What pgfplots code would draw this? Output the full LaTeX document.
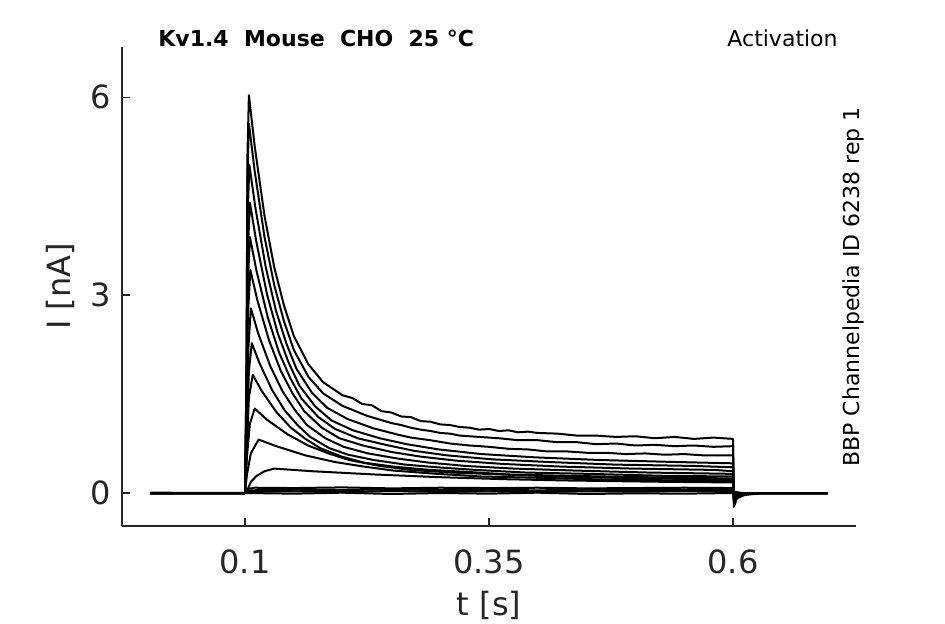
\documentclass[border=0pt]{standalone}
\usepackage{fontspec}
\setmainfont{DejaVu Sans}
\usepackage{pgfplots}
\pgfplotsset{compat=1.18}
\definecolor{axgray}{HTML}{262626}
\begin{document}
\begin{tikzpicture}
\useasboundingbox (0,0) rectangle (472.5pt,312pt);
\begin{axis}[
 at={(61pt,49pt)}, anchor=south west, scale only axis, width=367pt, height=239.5pt,
 xmin=-0.026, xmax=0.726, ymin=-0.5, ymax=6.76,
 axis x line*=bottom, axis y line*=left,
 axis line style={axgray, line width=0.6pt},
 tick align=inside, major tick length=4pt,
 tick style={axgray, line width=0.6pt},
 xtick={0.1,0.35,0.6}, xticklabels={0.1,0.35,0.6},
 ytick={0,3,6}, yticklabels={0,3,6},
 ticklabel style={font=\fontsize{16}{19}\selectfont, text=axgray},
 xticklabel style={anchor=base, yshift=-23.6pt},
 yticklabel style={xshift=-2.2pt},
 xlabel={t [s]}, ylabel={I [nA]},
 label style={font=\fontsize{16}{19}\selectfont, text=axgray},
 xlabel style={at={(axis description cs:0.5,-0.1858)}, anchor=base},
 ylabel style={at={(axis description cs:-0.0708,0.5)}, anchor=base},
 trace/.style={black, solid, mark=none, line width=1pt, line join=round},
]
% near-zero traces
\addplot[trace] coordinates {(0.003,0.005)(0.1,0)(0.102,0.06)(0.11,0.08)(0.15,0.075)(0.2,0.085)(0.25,0.07)(0.3,0.08)(0.35,0.075)(0.4,0.08)(0.45,0.07)(0.5,0.075)(0.55,0.08)(0.6,0.075)(0.6008,-0.02)(0.61,0)(0.697,0)};
\addplot[trace] coordinates {(0.003,-0.005)(0.1,0)(0.102,0.04)(0.15,0.05)(0.2,0.045)(0.25,0.055)(0.3,0.045)(0.35,0.05)(0.4,0.04)(0.45,0.05)(0.5,0.045)(0.55,0.05)(0.6,0.045)(0.6008,-0.01)(0.61,0)(0.697,0)};
\addplot[trace] coordinates {(0.003,0)(0.1,0)(0.102,0.02)(0.15,0.025)(0.2,0.015)(0.25,0.03)(0.3,0.02)(0.35,0.025)(0.4,0.015)(0.45,0.025)(0.5,0.02)(0.55,0.03)(0.6,0.02)(0.61,0)(0.697,0)};
\addplot[trace] coordinates {(0.003,0)(0.1,0)(0.15,-0.01)(0.2,0.005)(0.25,-0.015)(0.3,0)(0.35,-0.01)(0.4,0.005)(0.45,-0.015)(0.5,-0.005)(0.55,-0.01)(0.6,0)(0.697,0)};
% activation traces
\addplot[trace] coordinates {(0.003,0)(0.05,0)(0.1,0)(0.1015,1.8)(0.1025,5.1)(0.104,6.03)(0.110,5.25)(0.120,4.20)(0.130,3.42)(0.140,2.84)(0.150,2.38)(0.165,1.95)(0.180,1.68)(0.200,1.48)(0.21,1.44)(0.22,1.35)(0.23,1.33)(0.24,1.24)(0.25,1.22)(0.26,1.16)(0.27,1.15)(0.28,1.09)(0.29,1.08)(0.30,1.04)(0.31,1.03)(0.32,1.00)(0.33,0.99)(0.34,0.96)(0.35,0.97)(0.36,0.94)(0.37,0.95)(0.38,0.92)(0.39,0.93)(0.40,0.91)(0.42,0.90)(0.44,0.87)(0.46,0.87)(0.48,0.85)(0.50,0.86)(0.52,0.83)(0.54,0.85)(0.56,0.82)(0.58,0.84)(0.600,0.82)(0.6008,-0.21)(0.604,-0.08)(0.612,-0.03)(0.63,0)(0.697,0)};
\addplot[trace] coordinates {(0.003,0)(0.1,0)(0.1015,1.7)(0.1025,4.75)(0.104,5.60)(0.110,4.87)(0.120,3.88)(0.130,3.15)(0.140,2.60)(0.150,2.17)(0.165,1.76)(0.180,1.51)(0.200,1.32)(0.225,1.17)(0.250,1.06)(0.26,1.03)(0.27,0.99)(0.28,0.96)(0.29,0.94)(0.30,0.91)(0.31,0.90)(0.32,0.87)(0.34,0.85)(0.36,0.83)(0.38,0.80)(0.40,0.80)(0.42,0.77)(0.44,0.77)(0.46,0.74)(0.48,0.75)(0.50,0.72)(0.52,0.73)(0.54,0.71)(0.56,0.72)(0.58,0.70)(0.600,0.71)(0.6008,-0.17)(0.604,-0.06)(0.612,-0.02)(0.63,0)(0.697,0)};
\addplot[trace] coordinates {(0.003,0)(0.1,0)(0.1015,1.5)(0.1027,4.2)(0.1045,4.97)(0.1108,4.31)(0.1213,3.42)(0.1318,2.76)(0.1423,2.27)(0.1528,1.88)(0.1686,1.52)(0.1843,1.29)(0.2053,1.12)(0.2316,0.98)(0.2578,0.88)(0.27,0.84)(0.29,0.80)(0.31,0.75)(0.33,0.72)(0.35,0.70)(0.37,0.67)(0.39,0.66)(0.41,0.63)(0.43,0.63)(0.45,0.61)(0.47,0.61)(0.49,0.59)(0.51,0.60)(0.53,0.58)(0.55,0.59)(0.57,0.57)(0.6,0.57)(0.6008,-0.13)(0.604,-0.05)(0.612,-0.02)(0.63,0)(0.697,0)};
\addplot[trace] coordinates {(0.003,0)(0.1,0)(0.1015,1.3)(0.103,3.7)(0.105,4.40)(0.1116,3.81)(0.1226,3.01)(0.1336,2.42)(0.1446,1.98)(0.1556,1.63)(0.1721,1.31)(0.1886,1.10)(0.2106,0.95)(0.2381,0.83)(0.2656,0.74)(0.2986,0.66)(0.3426,0.59)(0.3976,0.54)(0.4636,0.50)(0.5406,0.47)(0.6,0.45)(0.6008,-0.10)(0.604,-0.04)(0.612,-0.01)(0.63,0)(0.697,0)};
\addplot[trace] coordinates {(0.003,0)(0.1,0)(0.1015,1.1)(0.103,3.2)(0.105,3.88)(0.1119,3.36)(0.1234,2.66)(0.1349,2.13)(0.1464,1.74)(0.1579,1.43)(0.1752,1.15)(0.1924,0.97)(0.2154,0.83)(0.2442,0.73)(0.2729,0.64)(0.3074,0.57)(0.3534,0.51)(0.4109,0.47)(0.4799,0.43)(0.5604,0.41)(0.6,0.39)(0.6008,-0.08)(0.604,-0.03)(0.615,0)(0.697,0)};
\addplot[trace] coordinates {(0.003,0)(0.1,0)(0.1015,0.9)(0.103,2.7)(0.1055,3.38)(0.1127,2.92)(0.1247,2.31)(0.1367,1.85)(0.1487,1.51)(0.1607,1.24)(0.1787,0.99)(0.1967,0.83)(0.2207,0.72)(0.2507,0.62)(0.2807,0.55)(0.3167,0.49)(0.3647,0.44)(0.4247,0.40)(0.4967,0.37)(0.5807,0.35)(0.6,0.33)(0.6008,-0.07)(0.604,-0.03)(0.615,0)(0.697,0)};
\addplot[trace] coordinates {(0.003,0)(0.1,0)(0.1015,0.75)(0.1035,2.2)(0.106,2.80)(0.1135,2.42)(0.126,1.92)(0.1385,1.54)(0.151,1.26)(0.1635,1.03)(0.1823,0.83)(0.201,0.70)(0.226,0.60)(0.2573,0.52)(0.2885,0.46)(0.326,0.41)(0.376,0.37)(0.4385,0.34)(0.5135,0.31)(0.6,0.29)(0.6008,-0.06)(0.604,-0.02)(0.615,0)(0.697,0)};
\addplot[trace] coordinates {(0.003,0)(0.1,0)(0.1015,0.6)(0.104,1.85)(0.107,2.27)(0.1148,1.97)(0.1278,1.56)(0.1408,1.25)(0.1538,1.03)(0.1668,0.85)(0.1863,0.68)(0.2058,0.58)(0.2318,0.50)(0.2643,0.43)(0.2968,0.39)(0.3358,0.35)(0.3878,0.31)(0.4528,0.29)(0.5308,0.26)(0.6,0.25)(0.6008,-0.05)(0.604,-0.02)(0.615,0)(0.697,0)};
\addplot[trace] coordinates {(0.003,0)(0.1,0)(0.1015,0.5)(0.104,1.45)(0.108,1.79)(0.117,1.55)(0.132,1.23)(0.147,0.99)(0.162,0.82)(0.177,0.68)(0.1995,0.55)(0.222,0.46)(0.252,0.40)(0.2895,0.35)(0.327,0.32)(0.372,0.28)(0.432,0.26)(0.507,0.24)(0.6,0.22)(0.6008,-0.04)(0.605,-0.01)(0.615,0)(0.697,0)};
\addplot[trace] coordinates {(0.003,0)(0.1,0)(0.102,0.55)(0.105,1.05)(0.110,1.28)(0.1226,1.11)(0.1436,0.89)(0.1646,0.72)(0.1856,0.60)(0.2066,0.50)(0.2381,0.41)(0.2696,0.35)(0.3116,0.31)(0.3641,0.28)(0.4166,0.25)(0.4796,0.23)(0.5636,0.21)(0.6,0.20)(0.6008,-0.04)(0.605,-0.01)(0.615,0)(0.697,0)};
\addplot[trace] coordinates {(0.003,0)(0.1,0)(0.102,0.28)(0.106,0.6)(0.114,0.81)(0.132,0.71)(0.162,0.57)(0.192,0.47)(0.222,0.40)(0.252,0.34)(0.297,0.29)(0.342,0.25)(0.402,0.23)(0.477,0.20)(0.552,0.19)(0.6,0.18)(0.6008,-0.03)(0.605,-0.01)(0.615,0)(0.697,0)};
\addplot[trace] coordinates {(0.003,0)(0.1,0)(0.103,0.06)(0.106,0.17)(0.112,0.26)(0.12,0.33)(0.130,0.37)(0.169,0.33)(0.234,0.28)(0.299,0.24)(0.364,0.21)(0.429,0.19)(0.5265,0.17)(0.6,0.16)(0.6008,-0.03)(0.605,-0.01)(0.615,0)(0.697,0)};
\end{axis}
\node[inner sep=0pt, anchor=base west, font=\fontsize{11}{13}\selectfont\bfseries] at (79pt,288.7pt) {Kv1.4~~Mouse~~CHO~~25 °C};
\node[inner sep=0pt, anchor=base east, font=\fontsize{11}{13}\selectfont] at (419pt,288.7pt) {Activation};
\node[inner sep=0pt, rotate=90, anchor=base west, font=\fontsize{11}{13}\selectfont] at (429.5pt,78.5pt) {BBP Channelpedia ID 6238 rep 1};
\end{tikzpicture}
\end{document}
